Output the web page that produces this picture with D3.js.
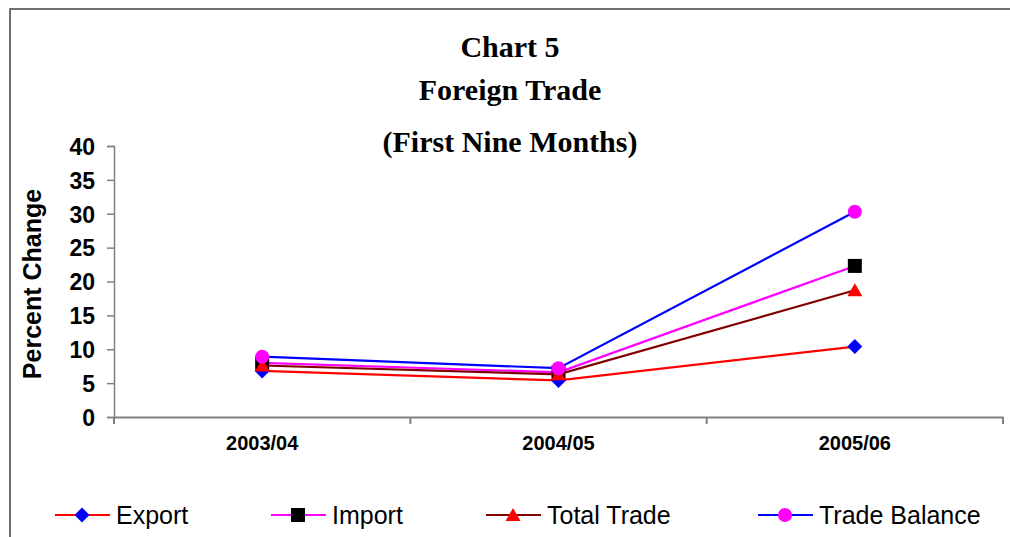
<!DOCTYPE html>
<html>
<head>
<meta charset="utf-8">
<script src="https://cdn.jsdelivr.net/npm/d3@7"></script>
<style>
  html, body { margin: 0; padding: 0; background: #fff; }
  svg { display: block; }
</style>
</head>
<body>
<script>
// Percent change in foreign trade, first nine months of each fiscal year
const categories = ["2003/04", "2004/05", "2005/06"];
const exportVals = [6.8, 5.4, 10.4];
const importVals = [8.0, 6.6, 22.3];
const totalTradeVals = [7.6, 6.3, 18.7];
const tradeBalanceVals = [8.9, 7.2, 30.3];
const yTicks = [0, 5, 10, 15, 20, 25, 30, 35, 40];
const titleLines = ["Chart 5", "Foreign Trade", "(First Nine Months)"];

const series = [
  { name: "Export", values: exportVals, line: "#FF0000", marker: "#0000FF", shape: "diamond" },
  { name: "Import", values: importVals, line: "#FF00FF", marker: "#000000", shape: "square" },
  { name: "Total Trade", values: totalTradeVals, line: "#800000", marker: "#FF0000", shape: "triangle" },
  { name: "Trade Balance", values: tradeBalanceVals, line: "#0000FF", marker: "#FF00FF", shape: "circle" }
];

const W = 1010, H = 537;
const svg = d3.select("body").append("svg").attr("width", W).attr("height", H);

// outer frame (left and top edges visible)
svg.append("path")
  .attr("d", `M10,${H} L10,9 L${W + 2},9`)
  .attr("fill", "none").attr("stroke", "#404040").attr("stroke-width", 1.5);

// titles
const titleY = [57, 100, 152];
svg.selectAll("text.title").data(titleLines).join("text")
  .attr("class", "title")
  .attr("x", 510).attr("y", (d, i) => titleY[i])
  .attr("text-anchor", "middle")
  .style("font-family", "'Liberation Serif', 'Times New Roman', serif")
  .style("font-weight", "bold").style("font-size", "30px")
  .text(d => d);

const x = d3.scaleBand().domain(categories).range([114, 1003]);
const y = d3.scaleLinear().domain([0, 40]).range([417, 146]);
const cx = d => x(d) + x.bandwidth() / 2;

const axisColor = "#808080";

// y axis
const yAxis = svg.append("g").attr("transform", "translate(114,0)")
  .call(d3.axisLeft(y).tickValues(yTicks).tickSize(7).tickPadding(12).tickFormat(d3.format("d")));
yAxis.select(".domain").attr("stroke", axisColor).attr("stroke-width", 1.5);
yAxis.selectAll(".tick line").attr("stroke", axisColor).attr("stroke-width", 1.5);
yAxis.selectAll(".tick text")
  .style("font-family", "'Liberation Sans', Arial, sans-serif")
  .style("font-weight", "bold").style("font-size", "23px").attr("fill", "#000")
  .attr("dy", "0.36em");

// x axis: labels centred in each band, tick marks on band boundaries
const xAxis = svg.append("g").attr("transform", "translate(0,417)")
  .call(d3.axisBottom(x).tickSize(0).tickPadding(19));
xAxis.select(".domain").attr("stroke", axisColor).attr("stroke-width", 2);
xAxis.selectAll(".tick text")
  .style("font-family", "'Liberation Sans', Arial, sans-serif")
  .style("font-weight", "bold").style("font-size", "20px").attr("fill", "#000");
const bounds = categories.map(c => x(c) + x.bandwidth()).concat([x(categories[0])]);
xAxis.selectAll("line.bound").data(bounds).join("line")
  .attr("class", "bound")
  .attr("x1", d => d).attr("x2", d => d).attr("y1", 0).attr("y2", 7)
  .attr("stroke", axisColor).attr("stroke-width", 2);

// y axis title
svg.append("text")
  .attr("transform", "translate(41,284) rotate(-90)")
  .attr("text-anchor", "middle")
  .style("font-family", "'Liberation Sans', Arial, sans-serif")
  .style("font-weight", "bold").style("font-size", "25px")
  .text("Percent Change");

function markerPath(shape) {
  switch (shape) {
    case "diamond": return "M0,-7.5L7.5,0L0,7.5L-7.5,0Z";
    case "square": return "M-7,-7L7,-7L7,7L-7,7Z";
    case "triangle": return "M0,-7L7.5,6L-7.5,6Z";
    default: return "M7,0A7,7 0 1,1 -7,0A7,7 0 1,1 7,0Z";
  }
}

const line = d3.line().x((d, i) => cx(categories[i])).y(d => y(d));

series.forEach(s => {
  const g = svg.append("g");
  g.append("path").datum(s.values)
    .attr("d", line).attr("fill", "none")
    .attr("stroke", s.line).attr("stroke-width", 2.2);
  g.selectAll("path.mk").data(s.values).join("path")
    .attr("class", "mk")
    .attr("transform", (d, i) => `translate(${cx(categories[i])},${y(d)})`)
    .attr("d", markerPath(s.shape))
    .attr("fill", s.marker);
});

// legend
const legendX = [55, 271, 486, 758];
const legendY = 515;
const lg = svg.selectAll("g.legend").data(series).join("g")
  .attr("class", "legend")
  .attr("transform", (d, i) => `translate(${legendX[i]},${legendY})`);
lg.append("line").attr("x1", 0).attr("x2", 55).attr("y1", 0).attr("y2", 0)
  .attr("stroke", d => d.line).attr("stroke-width", 2.2);
lg.append("path").attr("transform", "translate(27,0)")
  .attr("d", d => markerPath(d.shape)).attr("fill", d => d.marker);
lg.append("text").attr("x", 61).attr("y", 9)
  .style("font-family", "'Liberation Sans', Arial, sans-serif")
  .style("font-size", "25px").attr("fill", "#000")
  .text(d => d.name);
</script>
</body>
</html>
